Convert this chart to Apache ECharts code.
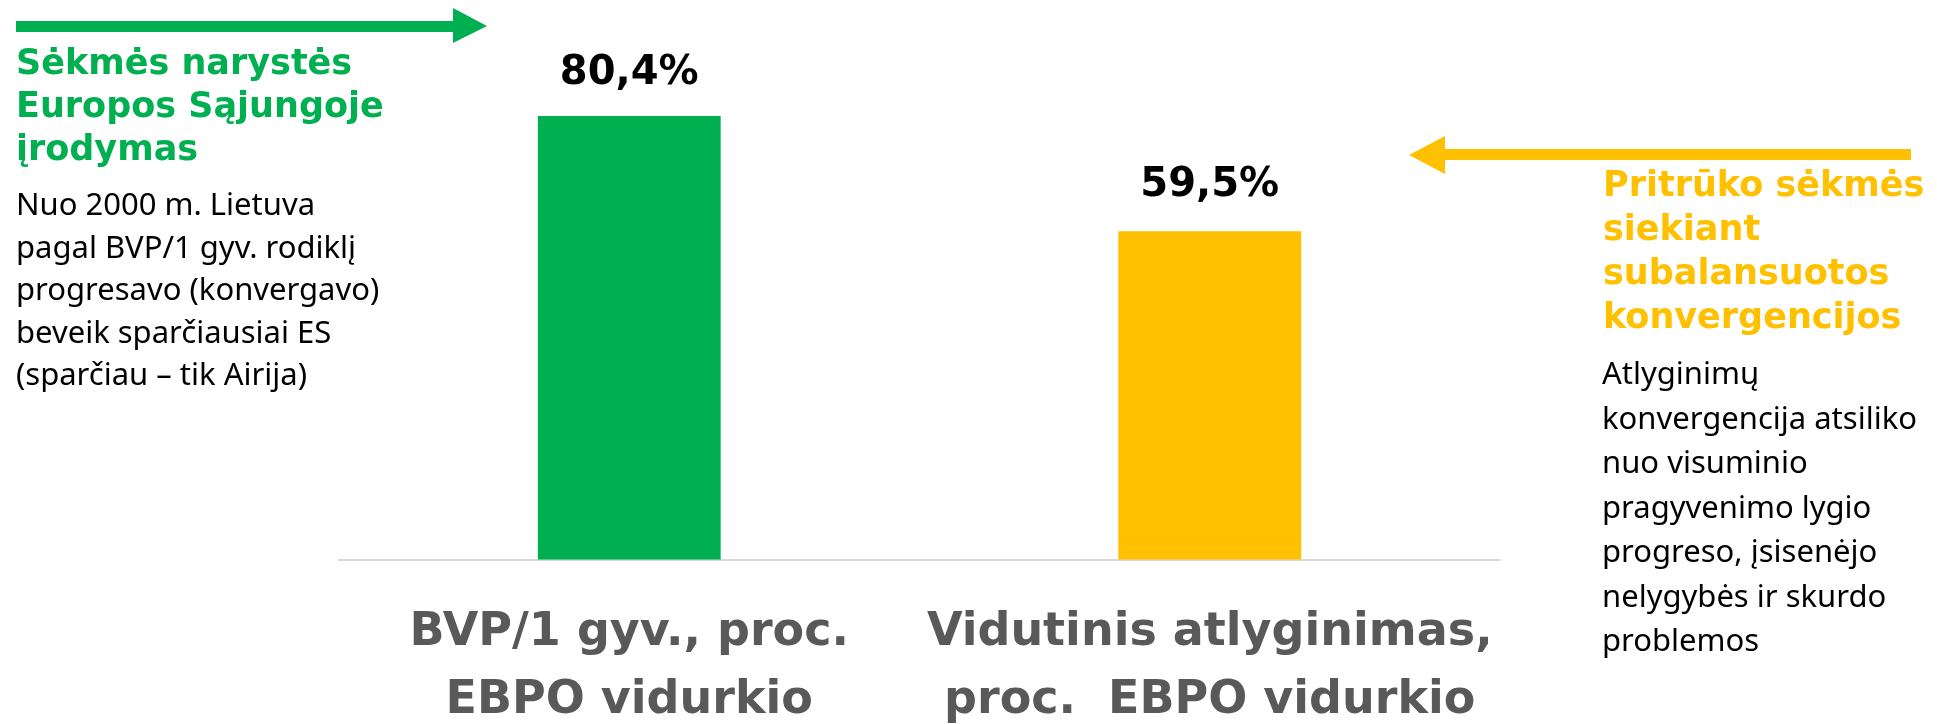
<!DOCTYPE html>
<html>
<head>
<meta charset="utf-8">
<script src="https://cdn.jsdelivr.net/npm/echarts@6/dist/echarts.min.js"></script>
<style>
html,body{margin:0;padding:0;background:#fff;}
#chart{width:1937px;height:724px;}
</style>
</head>
<body>
<div id="chart"></div>
<script>
// ---- data ----
var categories = ['BVP/1 gyv., proc.\nEBPO vidurkio', 'Vidutinis atlyginimas,\nproc.  EBPO vidurkio'];
var values = [80.4, 59.5];
var barColors = ['#00B050', '#FFC000'];
var labelGaps = [22, 26];

var leftTitle = 'Sėkmės narystės\nEuropos Sąjungoje\nįrodymas';
var leftBody = 'Nuo 2000 m. Lietuva\npagal BVP/1 gyv. rodiklį\nprogresavo (konvergavo)\nbeveik sparčiausiai ES\n(sparčiau – tik Airija)';
var rightTitle = 'Pritrūko sėkmės\nsiekiant\nsubalansuotos\nkonvergencijos';
var rightBody = 'Atlyginimų\nkonvergencija atsiliko\nnuo visuminio\npragyvenimo lygio\nprogreso, įsisenėjo\nnelygybės ir skurdo\nproblemos';

var chart = echarts.init(document.getElementById('chart'));
var seriesData = values.map(function (v, i) {
  return { value: v, itemStyle: { color: barColors[i] }, label: { distance: labelGaps[i] } };
});

chart.setOption({
  animation: false,
  backgroundColor: '#ffffff',
  grid: { left: 339, right: 437, top: 8, bottom: 164.5, containLabel: false, outerBoundsMode: 'none' },
  xAxis: {
    type: 'category',
    data: categories,
    axisLine: { show: true, lineStyle: { color: '#D9D9D9', width: 2 } },
    axisTick: { show: false },
    axisLabel: {
      interval: 0,
      margin: 40,
      color: '#595959',
      fontFamily: 'DejaVu Sans',
      fontWeight: 'bold',
      fontSize: 46,
      lineHeight: 68
    }
  },
  yAxis: {
    type: 'value',
    min: 0,
    max: 100,
    show: false,
    splitLine: { show: false }
  },
  series: [{
    type: 'bar',
    data: seriesData,
    barWidth: '31.5%',
    label: {
      show: true,
      position: 'top',
      color: '#000000',
      fontFamily: 'DejaVu Sans',
      fontWeight: 'bold',
      fontSize: 40,
      formatter: function (p) { return p.value.toFixed(1).replace('.', ',') + '%'; }
    }
  }],
  graphic: [
    {
      type: 'polygon',
      shape: { points: [[16,21],[453,21],[453,8],[487,26],[453,43],[453,32],[16,32]] },
      style: { fill: '#00B050' }
    },
    {
      type: 'polygon',
      shape: { points: [[1911,149],[1445,149],[1445,136],[1409,155],[1445,174],[1445,160],[1911,160]] },
      style: { fill: '#FFC000' }
    },
    {
      type: 'text', x: 16, y: 43,
      style: { text: leftTitle, fill: '#00B050', fontFamily: 'DejaVu Sans', fontWeight: 'bold', fontSize: 35, lineHeight: 43, verticalAlign: 'top', align: 'left' }
    },
    {
      type: 'text', x: 16, y: 185,
      style: { text: leftBody, fill: '#000000', fontFamily: 'Noto Sans', fontSize: 31, lineHeight: 42.5, verticalAlign: 'top', align: 'left' }
    },
    {
      type: 'text', x: 1603, y: 165,
      style: { text: rightTitle, fill: '#FFC000', fontFamily: 'DejaVu Sans', fontWeight: 'bold', fontSize: 35, lineHeight: 44, verticalAlign: 'top', align: 'left' }
    },
    {
      type: 'text', x: 1602, y: 353,
      style: { text: rightBody, fill: '#000000', fontFamily: 'Noto Sans', fontSize: 31, lineHeight: 44.5, verticalAlign: 'top', align: 'left' }
    }
  ]
});
</script>
</body>
</html>
